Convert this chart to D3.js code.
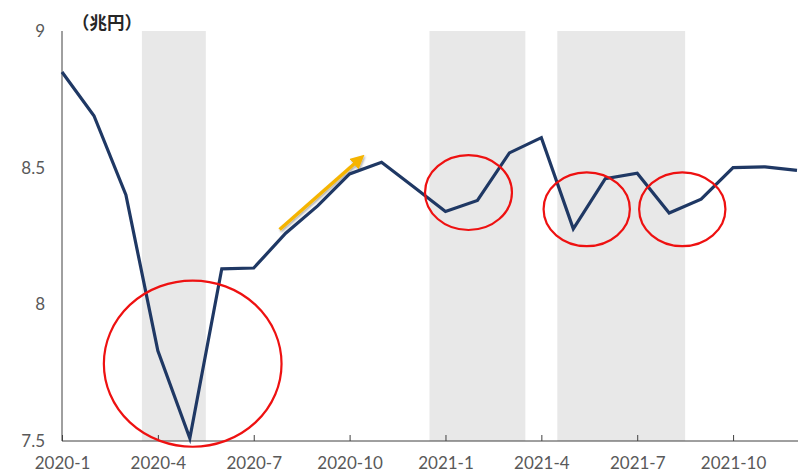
<!DOCTYPE html>
<html><head><meta charset="utf-8">
<script src="https://cdn.jsdelivr.net/npm/d3@7"></script>
<style>body{margin:0;background:#fff;}svg{display:block;}</style>
</head><body>
<svg id="c" width="798" height="473"></svg>
<script>
const months = ["2020-1","2020-2","2020-3","2020-4","2020-5","2020-6","2020-7","2020-8","2020-9","2020-10","2020-11","2020-12",
"2021-1","2021-2","2021-3","2021-4","2021-5","2021-6","2021-7","2021-8","2021-9","2021-10","2021-11","2021-12"];
const values = [8.85,8.69,8.40,7.83,7.51,8.13,8.133,8.26,8.36,8.477,8.52,8.43,8.34,8.38,8.554,8.61,8.276,8.46,8.48,8.334,8.385,8.50,8.503,8.49];
const xTickLabels = ["2020-1","2020-4","2020-7","2020-10","2021-1","2021-4","2021-7","2021-10"];
const yTicks = [7.5,8,8.5,9];
const shadedPeriods = [[2.5,4.5],[11.5,14.5],[15.5,19.5]];
const circles = [ // [centerMonthIndex, centerValue, radiusMonths, radiusValue]
  [4.09,7.783,2.78,0.304],
  [12.72,8.409,1.36,0.137],
  [16.42,8.348,1.35,0.135],
  [19.41,8.348,1.35,0.135]
];
const arrowFrom = [6.81,8.274], arrowTo = [9.3,8.53];
const unitLabel = "（兆円）";

const svg = d3.select("#c");
const x = d3.scaleLinear().domain([0,23]).range([62,797]);
const y = d3.scaleLinear().domain([7.5,9]).range([441,31]);
const font = "Lato, 'Noto Sans', sans-serif";

// shading
svg.append("g").selectAll("rect").data(shadedPeriods).join("rect")
  .attr("x",d=>x(d[0])).attr("width",d=>x(d[1])-x(d[0]))
  .attr("y",y(9)).attr("height",y(7.5)-y(9)).attr("fill","#e8e8e8");

// axes
svg.append("line").attr("x1",x(0)).attr("x2",x(0)).attr("y1",y(9)).attr("y2",y(7.5))
  .attr("stroke","#404040").attr("stroke-width",1);
const xAxis = d3.axisBottom(x)
  .tickValues(xTickLabels.map(l=>months.indexOf(l)))
  .tickFormat(i=>months[i]).tickSizeInner(-6).tickSizeOuter(0).tickPadding(16);
const gx = svg.append("g").attr("transform",`translate(0,${y(7.5)})`).call(xAxis);
gx.select(".domain").attr("stroke","#404040").attr("d",`M${x(0)},0H798`);
gx.selectAll(".tick line").attr("stroke","#404040");
gx.selectAll(".tick text").attr("font-family",font).attr("font-size",17).attr("fill","#595959");

const yAxis = d3.axisLeft(y).tickValues(yTicks).tickFormat(d=>d).tickSize(0).tickPadding(17);
const gy = svg.append("g").attr("transform",`translate(${x(0)},0)`).call(yAxis);
gy.select(".domain").remove();
gy.selectAll(".tick text").attr("font-family",font).attr("font-size",17).attr("fill","#595959");

// unit label
svg.append("text").attr("x",72).attr("y",29).text(unitLabel)
  .attr("font-family","'Noto Sans CJK JP', sans-serif").attr("font-weight","bold")
  .attr("font-size",17.5).attr("fill","#262626");

// yellow arrow
const defs = svg.append("defs");
defs.append("marker").attr("id","ah").attr("viewBox","0 0 10 10").attr("refX",5).attr("refY",5)
  .attr("markerWidth",4).attr("markerHeight",4).attr("orient","auto")
  .append("path").attr("d","M0,0L10,5L0,10z").attr("fill","#f5b400");
defs.append("filter").attr("id","sh").append("feDropShadow")
  .attr("dx",1).attr("dy",1.5).attr("stdDeviation",1).attr("flood-color","#000").attr("flood-opacity",0.35);
svg.append("line")
  .attr("x1",x(arrowFrom[0])).attr("y1",y(arrowFrom[1]))
  .attr("x2",x(arrowTo[0])).attr("y2",y(arrowTo[1]))
  .attr("stroke","#f5b400").attr("stroke-width",3.5).attr("marker-end","url(#ah)")
  .attr("filter","url(#sh)");

// line
svg.append("path").datum(values)
  .attr("d",d3.line().x((d,i)=>x(i)).y(d=>y(d)))
  .attr("fill","none").attr("stroke","#1f3864").attr("stroke-width",3.2).attr("stroke-linejoin","miter");

// red ellipses
svg.append("g").selectAll("ellipse").data(circles).join("ellipse")
  .attr("cx",d=>x(d[0])).attr("cy",d=>y(d[1]))
  .attr("rx",d=>x(d[2])-x(0)).attr("ry",d=>y(7.5)-y(7.5+d[3]))
  .attr("fill","none").attr("stroke","#ee1111").attr("stroke-width",2.2);
</script>
</body></html>
